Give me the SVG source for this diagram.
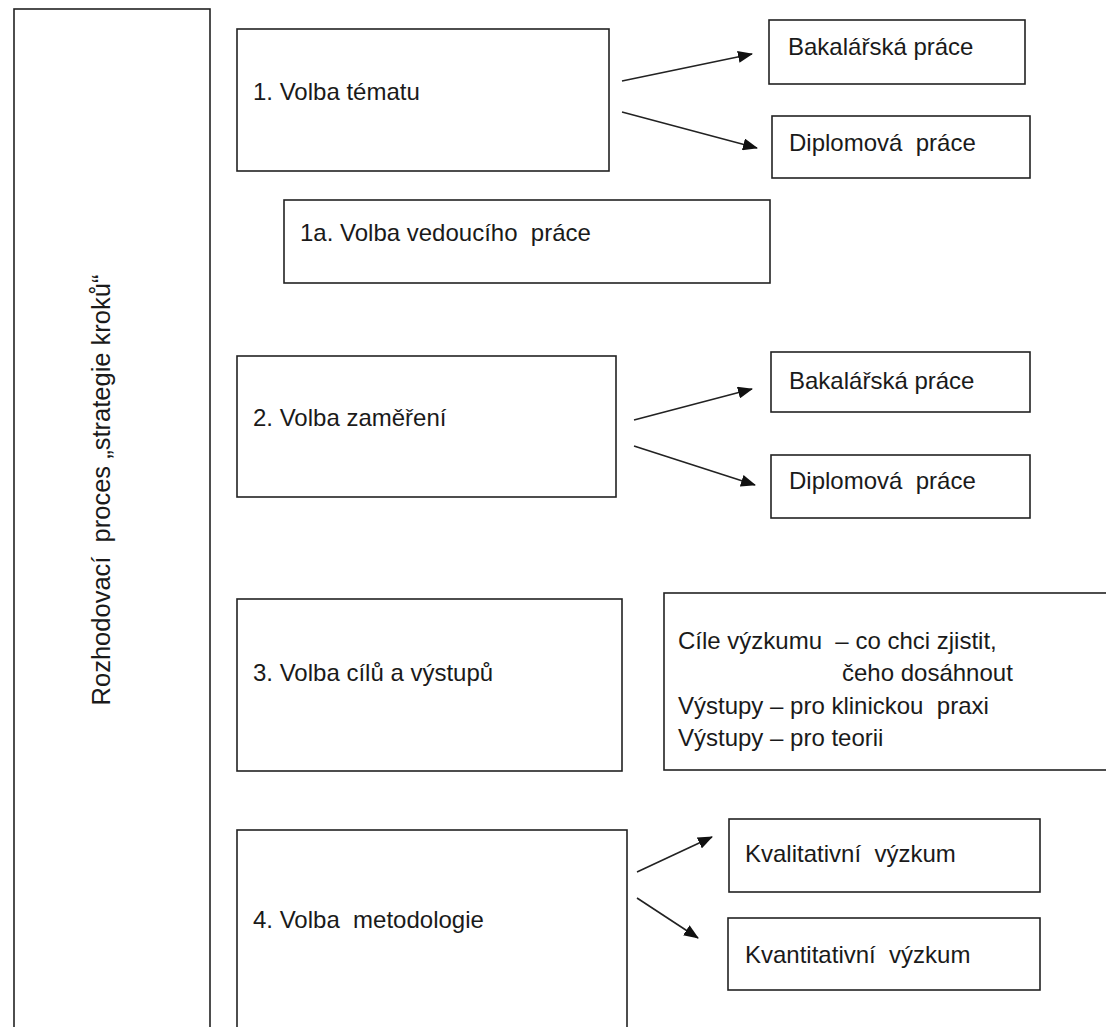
<svg xmlns="http://www.w3.org/2000/svg" width="1106" height="1027" viewBox="0 0 1106 1027">
<defs>
<style>
.box{fill:#fff;stroke:#222;stroke-width:1.6}
.t{font-family:"Liberation Sans",Arial,sans-serif;font-size:24px;fill:#1a1a1a;white-space:pre}
.c{stroke:#222;stroke-width:1.6;fill:none;marker-end:url(#ah)}
</style>
<marker id="ah" markerWidth="15" markerHeight="12" refX="14" refY="6" orient="auto" markerUnits="userSpaceOnUse">
<path d="M0,0 L15,6 L0,12 Z" fill="#111"/>
</marker>
</defs>
<rect width="1106" height="1027" fill="#fff"/>
<g id="side">
<rect class="box" x="14" y="9" width="196" height="1030"/>
<text class="t" xml:space="preserve" style="font-size:25.5px" transform="translate(110,490) rotate(-90)" text-anchor="middle">Rozhodovací  proces „strategie kroků“</text>
</g>
<g id="n1"><rect class="box" x="237" y="29" width="372" height="142"/><text class="t" xml:space="preserve" x="253" y="100">1. Volba tématu</text></g>
<g id="n1b"><rect class="box" x="769" y="20" width="256" height="64"/><text class="t" xml:space="preserve" x="788" y="55">Bakalářská práce</text></g>
<g id="n1d"><rect class="box" x="772" y="116" width="258" height="62"/><text class="t" xml:space="preserve" x="789" y="151">Diplomová  práce</text></g>
<g id="n1a"><rect class="box" x="284" y="200" width="486" height="83"/><text class="t" xml:space="preserve" x="300" y="241">1a. Volba vedoucího  práce</text></g>
<g id="n2"><rect class="box" x="237" y="356" width="379" height="141"/><text class="t" xml:space="preserve" x="253" y="426">2. Volba zaměření</text></g>
<g id="n2b"><rect class="box" x="771" y="352" width="259" height="60"/><text class="t" xml:space="preserve" x="789" y="389">Bakalářská práce</text></g>
<g id="n2d"><rect class="box" x="771" y="455" width="259" height="63"/><text class="t" xml:space="preserve" x="789" y="489">Diplomová  práce</text></g>
<g id="n3"><rect class="box" x="237" y="599" width="385" height="172"/><text class="t" xml:space="preserve" x="253" y="681">3. Volba cílů a výstupů</text></g>
<g id="n3b"><rect class="box" x="664" y="593" width="460" height="177"/>
<text class="t" xml:space="preserve" x="678" y="649">Cíle výzkumu  – co chci zjistit,</text>
<text class="t" xml:space="preserve" x="842" y="681">čeho dosáhnout</text>
<text class="t" xml:space="preserve" x="678" y="714">Výstupy – pro klinickou  praxi</text>
<text class="t" xml:space="preserve" x="678" y="746">Výstupy – pro teorii</text></g>
<g id="n4"><rect class="box" x="237" y="830" width="390" height="210"/><text class="t" xml:space="preserve" x="253" y="928">4. Volba  metodologie</text></g>
<g id="n4a"><rect class="box" x="729" y="819" width="311" height="73"/><text class="t" xml:space="preserve" x="745" y="862">Kvalitativní  výzkum</text></g>
<g id="n4b"><rect class="box" x="728" y="918" width="312" height="72"/><text class="t" xml:space="preserve" x="745" y="963">Kvantitativní  výzkum</text></g>
<g id="connectors">
<line class="c" x1="622" y1="81" x2="752" y2="54"/>
<line class="c" x1="622" y1="112" x2="757" y2="148"/>
<line class="c" x1="634" y1="420" x2="752" y2="389"/>
<line class="c" x1="634" y1="446" x2="755" y2="485"/>
<line class="c" x1="637" y1="872" x2="712" y2="837"/>
<line class="c" x1="637" y1="898" x2="698" y2="938"/>
</g>
</svg>
